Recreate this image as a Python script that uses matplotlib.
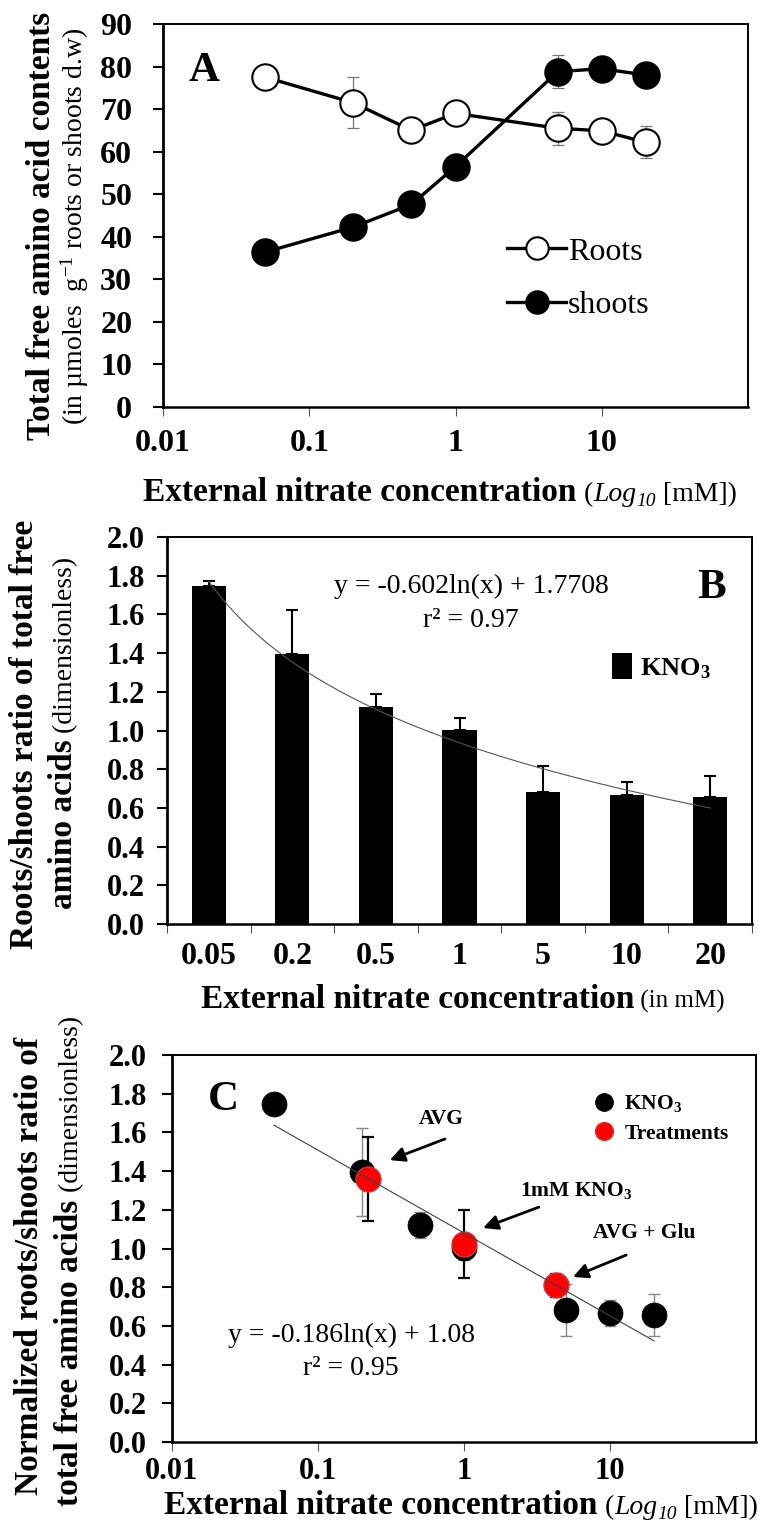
import matplotlib
matplotlib.use('Agg')
import matplotlib.pyplot as plt
import numpy as np
from matplotlib.transforms import IdentityTransform
from matplotlib.ticker import NullLocator, FixedLocator

plt.rcParams['font.family'] = ['Liberation Serif', 'DejaVu Serif']
plt.rcParams['mathtext.fontset'] = 'custom'
plt.rcParams['mathtext.rm'] = 'Liberation Serif'
plt.rcParams['mathtext.it'] = 'Liberation Serif:italic'
plt.rcParams['mathtext.bf'] = 'Liberation Serif:bold'

# ---- data ----
conc = [0.05, 0.2, 0.5, 1, 5, 10, 20]
conc_labels = ['0.05', '0.2', '0.5', '1', '5', '10', '20']

# panel A: total free amino acids (umol/g d.w)
roots = [77.5, 71.5, 65.0, 69.0, 65.5, 64.9, 62.2]
roots_err = [0, 6.0, 0, 0, 3.9, 0, 3.8]
shoots = [36.4, 42.3, 47.6, 56.5, 78.8, 79.5, 78.0]
shoots_err = [0, 0, 0, 0, 3.9, 0, 0]

# panel B / C: roots/shoots ratio
ratio = [1.745, 1.396, 1.121, 1.003, 0.683, 0.669, 0.657]
ratio_err = [0.03, 0.226, 0.067, 0.063, 0.133, 0.067, 0.108]

# panel C: treatments
treat_x = [0.22, 1.0, 4.3]
treat_y = [1.36, 1.025, 0.81]
treat_err = [0.217, 0.175, 0.06]
treat_names = ['AVG', '$\\mathbf{1mM\\ KNO_3}$', 'AVG + Glu']

# trendline coefficients (as printed on the chart)
b_slope, b_int = -0.602, 1.7708
c_slope, c_int = -0.186, 1.08

W, H = 763, 1521
fig = plt.figure(figsize=(W / 100, H / 100), dpi=100)


def px_axes(l, t, r, b):
    return fig.add_axes([l / W, 1 - b / H, (r - l) / W, (b - t) / H])


def mixed_text(parts, x, y, rotation=0):
    # horizontal: x = centre, y = baseline ; vertical: x = baseline, y = centre (pixels from top)
    # part = (text, size, weight[, style[, baseline shift px]])
    rend = fig.canvas.get_renderer()
    objs = []
    for p in parts:
        s, size, weight = p[:3]
        style = p[3] if len(p) > 3 else 'normal'
        t = fig.text(0, 0, s, fontsize=size, fontweight=weight, fontstyle=style,
                     rotation=rotation, rotation_mode='anchor', ha='left', va='baseline',
                     transform=IdentityTransform())
        objs.append((t, p[4] if len(p) > 4 else 0))
    lens = []
    for t, _ in objs:
        bb = t.get_window_extent(rend)
        lens.append(bb.width if rotation == 0 else bb.height)
    if rotation == 0:
        pos = x - sum(lens) / 2
    else:
        pos = (H - y) - sum(lens) / 2
    for (t, dy), L in zip(objs, lens):
        if rotation == 0:
            t.set_position((pos, H - y - dy))
        else:
            t.set_position((x + dy, pos))
        pos += L


def px_text(x, y, s, **kw):
    fig.text(x, H - y, s, transform=IdentityTransform(), **kw)


def style_spines(ax):
    for s in ax.spines.values():
        s.set_linewidth(1.4)
    ax.spines['left'].set_linewidth(2.0)
    ax.spines['bottom'].set_linewidth(1.8)


log_label = [('External nitrate concentration', 24, 'bold'),
             (' (', 20, 'normal'), ('Log', 20, 'normal', 'italic'),
             ('10', 14, 'normal', 'italic', 5), (' [mM])', 20, 'normal')]

# ---------------- Panel A ----------------
axA = px_axes(163, 24, 748, 407)
axA.set_xscale('log')
axA.errorbar(conc, roots, yerr=roots_err, fmt='none', ecolor='#777777',
             elinewidth=0.9, capsize=4.5, capthick=0.9, zorder=2)
axA.errorbar(conc, shoots, yerr=shoots_err, fmt='none', ecolor='#777777',
             elinewidth=0.9, capsize=4.5, capthick=0.9, zorder=2)
axA.plot(conc, roots, '-o', color='black', lw=2.4, ms=19, mfc='white', mec='black',
         mew=1.5, zorder=3, label='Roots')
axA.plot(conc, shoots, '-o', color='black', lw=2.4, ms=19, mfc='black', mec='black',
         mew=1.5, zorder=3, label='shoots')
axA.set_xlim(0.01, 100)
axA.set_ylim(0, 90)
axA.set_xticks([0.01, 0.1, 1, 10], ['0.01', '0.1', '1', '10'], fontweight='bold')
axA.xaxis.set_minor_locator(NullLocator())
axA.set_yticks(range(0, 91, 10), [str(v) for v in range(0, 91, 10)], fontweight='bold')
axA.tick_params(axis='x', direction='out', length=6.5, width=0.8, color='#555555',
                pad=9, labelsize=23)
axA.tick_params(axis='y', direction='out', length=7.2, width=1.5, color='black',
                pad=15, labelsize=23)
style_spines(axA)
axA.legend(loc='center left', bbox_to_anchor=(507 / W, 1 - 278.5 / H),
           bbox_transform=fig.transFigure, frameon=False, fontsize=23,
           handlelength=1.85, handletextpad=0.05, labelspacing=0.75,
           borderpad=0, borderaxespad=0, markerscale=0.85)
px_text(204, 81, 'A', fontsize=31, fontweight='bold', ha='center', va='baseline')

mixed_text([('Total free amino acid contents', 24, 'bold')], 50, 226, rotation=90)
mixed_text([('(in \u00b5moles  g$^{-1}$ roots or shoots d.w)', 20, 'normal')], 83, 226, rotation=90)
mixed_text(log_label, 440, 501)

# ---------------- Panel B ----------------
axB = px_axes(167, 537, 752, 924)
xb = np.arange(len(ratio))
axB.bar(xb, ratio, width=0.41, color='black', yerr=[np.zeros(len(ratio)), ratio_err],
        error_kw=dict(ecolor='black', elinewidth=1.5, capsize=4.5, capthick=1.5),
        label='$\\mathbf{KNO_3}$', zorder=2)
xi = np.linspace(1, 7, 200)
axB.plot(xi - 1, b_slope * np.log(xi) + b_int, color='#555555', lw=0.8, zorder=3)
axB.set_xlim(-0.5, len(ratio) - 0.5)
axB.set_ylim(0, 2.0)
axB.set_xticks(xb, conc_labels, fontweight='bold')
axB.xaxis.set_minor_locator(FixedLocator(np.arange(-0.5, len(ratio), 1.0)))
yt = np.round(np.arange(0, 2.01, 0.2), 1)
axB.set_yticks(yt, [f'{v:.1f}' for v in yt], fontweight='bold')
axB.tick_params(axis='x', which='major', length=0, pad=13, labelsize=23)
axB.tick_params(axis='x', which='minor', direction='out', length=6.5, width=0.8,
                color='#555555')
axB.tick_params(axis='y', direction='out', length=7.2, width=1.5, color='black',
                pad=9, labelsize=22)
style_spines(axB)
axB.legend(loc='center left', bbox_to_anchor=(612 / W, 1 - 667 / H),
           bbox_transform=fig.transFigure, frameon=False, fontsize=19,
           handlelength=0.75, handleheight=1.1, handletextpad=0.3,
           borderpad=0, borderaxespad=0)
px_text(471, 593, 'y = -0.602ln(x) + 1.7708', fontsize=20, ha='center', va='baseline')
px_text(471, 627, 'r\u00b2 = 0.97', fontsize=20, ha='center', va='baseline')
px_text(712, 598, 'B', fontsize=31, fontweight='bold', ha='center', va='baseline')

mixed_text([('Roots/shoots ratio of total free', 24, 'bold')], 33, 734, rotation=90)
mixed_text([('amino acids', 24, 'bold'), (' (dimensionless)', 20, 'normal')], 72, 733, rotation=90)
mixed_text([('External nitrate concentration', 24, 'bold'),
            (' (in mM)', 18, 'normal')], 463, 1008)

# ---------------- Panel C ----------------
axC = px_axes(172, 1055, 756, 1442)
axC.set_xscale('log')
axC.errorbar(conc, ratio, yerr=ratio_err, fmt='none', ecolor='#888888',
             elinewidth=1.0, capsize=4.5, capthick=1.0, zorder=2)
axC.plot(conc, ratio, 'o', color='black', ms=18, mec='black', mew=0.5, zorder=3,
         label='$\\mathbf{KNO_3}$')
axC.errorbar(treat_x, treat_y, yerr=treat_err, fmt='none', ecolor='black',
             elinewidth=1.6, capsize=4.5, capthick=1.6, zorder=4)
axC.plot(treat_x, treat_y, 'o', color='#ff0000', mec='#c04040', mew=1.0, ms=18,
         zorder=5, label='Treatments')
xc = np.logspace(np.log10(conc[0]), np.log10(conc[-1]), 100)
axC.plot(xc, c_slope * np.log(xc) + c_int, color='#404040', lw=0.8, zorder=6)
axC.set_xlim(0.01, 100)
axC.set_ylim(0, 2.0)
axC.set_xticks([0.01, 0.1, 1, 10], ['0.01', '0.1', '1', '10'], fontweight='bold')
axC.xaxis.set_minor_locator(NullLocator())
axC.set_yticks(yt, [f'{v:.1f}' for v in yt], fontweight='bold')
axC.tick_params(axis='x', direction='out', length=6.5, width=0.8, color='#555555',
                pad=4, labelsize=22)
axC.tick_params(axis='y', direction='out', length=7.2, width=1.5, color='black',
                pad=11, labelsize=22)
style_spines(axC)
axC.legend(loc='center left', bbox_to_anchor=(593 / W, 1 - 1118.5 / H),
           bbox_transform=fig.transFigure, frameon=False,
           prop=dict(size=15.5, weight='bold'), markerscale=0.72,
           handlelength=1.0, handletextpad=0.45, labelspacing=0.45,
           borderpad=0, borderaxespad=0)

# annotation arrows (text pos, arrow tail, arrow head) in data coords
ann_text = [(0.70, 1.67), (5.85, 1.30), (17.1, 1.08)]
ann_tail = [(0.74, 1.566), (3.26, 1.214), (12.9, 0.966)]
ann_head = [(0.31, 1.457), (1.35, 1.106), (5.58, 0.853)]
for name, tp, tl, hd in zip(treat_names, ann_text, ann_tail, ann_head):
    axC.text(tp[0], tp[1], name, fontsize=15.5, fontweight='bold', ha='center', va='center')
    axC.annotate('', xy=hd, xytext=tl,
                 arrowprops=dict(arrowstyle='-|>', color='black', lw=2.0,
                                 mutation_scale=22, shrinkA=0, shrinkB=0))

px_text(351, 1342, 'y = -0.186ln(x) + 1.08', fontsize=20, ha='center', va='baseline')
px_text(351, 1375, 'r\u00b2 = 0.95', fontsize=20, ha='center', va='baseline')
px_text(223, 1110, 'C', fontsize=31, fontweight='bold', ha='center', va='baseline')

mixed_text([('Normalized roots/shoots ratio of', 24, 'bold')], 38, 1266, rotation=90)
mixed_text([('total free amino acids', 24, 'bold'), (' (dimensionless)', 20, 'normal')],
           78, 1261, rotation=90)
mixed_text(log_label, 461, 1514)

fig.savefig('out.png', dpi=100)
